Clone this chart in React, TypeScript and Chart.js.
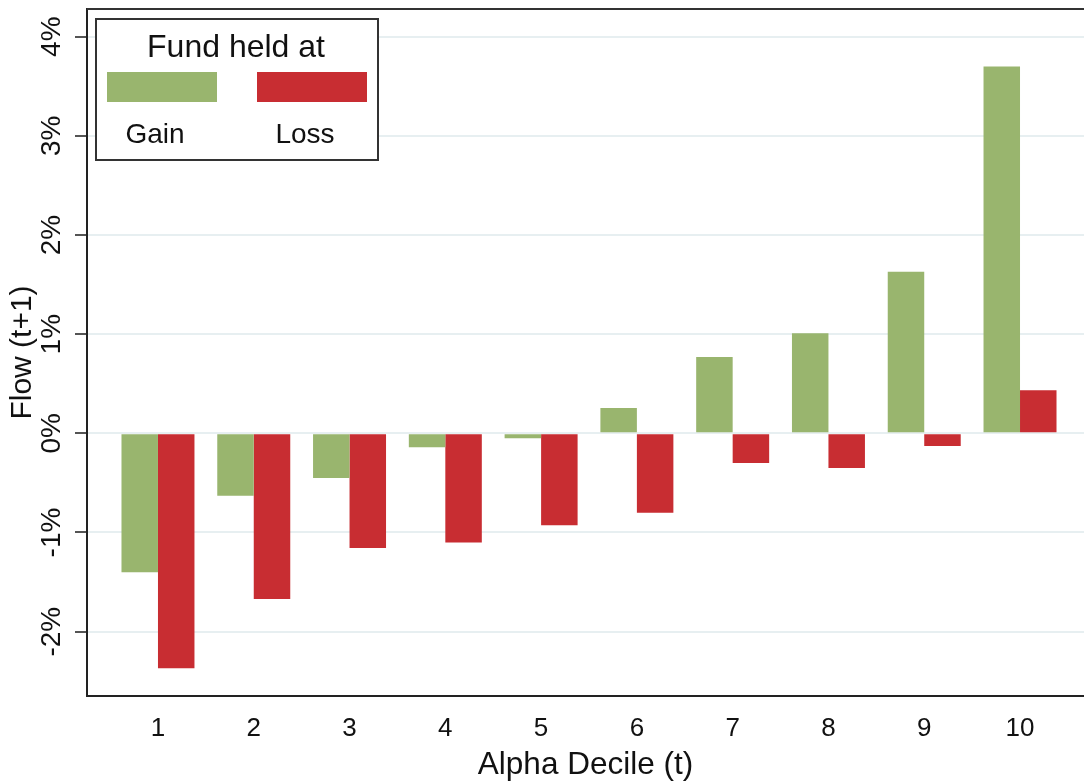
import { useEffect, useRef } from 'react';
import { Chart, registerables } from 'chart.js';

Chart.register(...registerables);

// ---- data ----
const deciles = [1, 2, 3, 4, 5, 6, 7, 8, 9, 10];
const gainFlow = [-1.4, -0.63, -0.45, -0.14, -0.05, 0.255, 0.77, 1.01, 1.63, 3.7];
const lossFlow = [-2.37, -1.67, -1.157, -1.1, -0.927, -0.8, -0.3, -0.35, -0.128, 0.434];
const seriesLabels = ['Gain', 'Loss'];
const seriesColors = ['#99b56e', '#c82d32'];
const yTickValues = [-2, -1, 0, 1, 2, 3, 4];
const legendTitle = 'Fund held at';
const xTitle = 'Alpha Decile (t)';
const yTitle = 'Flow (t+1)';

const FONT = "'Liberation Sans', Arial, sans-serif";
const TEXT = '#111111';

const frameAndLegend = {
  id: 'frameAndLegend',
  afterDraw(chart: any) {
    const { ctx, chartArea } = chart;
    ctx.save();
    // top frame line
    ctx.strokeStyle = '#333333';
    ctx.lineWidth = 2;
    ctx.beginPath();
    ctx.moveTo(chartArea.left, chartArea.top);
    ctx.lineTo(chartArea.right, chartArea.top);
    ctx.stroke();

    // legend box
    const bx = chartArea.left + 9;
    const by = chartArea.top + 10;
    const bw = 282;
    const bh = 141;
    ctx.fillStyle = '#ffffff';
    ctx.fillRect(bx, by, bw, bh);
    ctx.strokeStyle = '#333333';
    ctx.lineWidth = 2;
    ctx.strokeRect(bx, by, bw, bh);

    ctx.fillStyle = TEXT;
    ctx.textAlign = 'center';
    ctx.textBaseline = 'middle';
    ctx.font = `32px ${FONT}`;
    ctx.fillText(legendTitle, bx + bw / 2 - 1, by + 29);

    const ds = chart.data.datasets;
    ds.forEach((d: any, i: number) => {
      const sx = bx + 11 + i * 150;
      const sy = by + 53;
      ctx.fillStyle = d.backgroundColor;
      ctx.fillRect(sx, sy, 110, 30);
      ctx.fillStyle = TEXT;
      ctx.font = `28px ${FONT}`;
      ctx.fillText(d.label, sx + 48, by + 116);
    });
    ctx.restore();
  },
};

export default function App() {
  const ref = useRef<HTMLCanvasElement | null>(null);

  useEffect(() => {
    if (!ref.current) return;
    Chart.defaults.font.family = FONT;
    const chart = new Chart(ref.current, {
      type: 'bar',
      data: {
        datasets: [gainFlow, lossFlow].map((vals, si) => ({
          label: seriesLabels[si],
          data: deciles.map((d, i) => ({ x: d, y: vals[i] })),
          backgroundColor: seriesColors[si],
          borderWidth: 0,
          categoryPercentage: 0.762,
          barPercentage: 1,
        })),
      },
      options: {
        animation: false,
        responsive: false,
        layout: { padding: { left: 0, right: 0, top: 9, bottom: 0 } },
        plugins: {
          legend: { display: false },
          tooltip: { enabled: false },
        },
        scales: {
          x: {
            type: 'linear',
            offset: false,
            min: 0.259,
            max: 10.668,
            afterBuildTicks: (s: any) => {
              s.ticks = deciles.map((v) => ({ value: v }));
            },
            afterFit: (s: any) => {
              s.height = 86;
              s.paddingLeft = 0;
              s.paddingRight = 0;
            },
            grid: { display: false, drawTicks: false },
            border: { display: true, color: '#222222', width: 2 },
            ticks: {
              font: { size: 26, family: FONT },
              color: TEXT,
              padding: 17,
              maxRotation: 0,
              minRotation: 0,
              autoSkip: false,
              callback: (v: any) => String(v),
            },
            title: {
              display: true,
              text: xTitle,
              font: { size: 31.5, family: FONT },
              color: TEXT,
              padding: { top: 0, bottom: -2 },
            },
          },
          y: {
            min: -2.649,
            max: 4.279,
            afterBuildTicks: (s: any) => {
              s.ticks = yTickValues.map((v) => ({ value: v }));
            },
            afterFit: (s: any) => {
              s.width = 87;
              s.paddingTop = 0;
              s.paddingBottom = 0;
            },
            grid: {
              color: '#e7eff1',
              lineWidth: 2,
              tickColor: '#555555',
              tickLength: 12,
              tickWidth: 2,
            },
            border: { display: true, color: '#222222', width: 2 },
            ticks: {
              font: { size: 28, family: FONT },
              color: TEXT,
              minRotation: 90,
              maxRotation: 90,
              crossAlign: 'center',
              padding: -2,
              callback: (v: any) => `${v}%`,
            },
            title: {
              display: true,
              text: yTitle,
              font: { size: 30, family: FONT },
              color: TEXT,
              padding: { top: 5, bottom: 0 },
            },
          },
        },
      },
      plugins: [frameAndLegend],
    } as any);
    return () => chart.destroy();
  }, []);

  return (
    <div style={{ position: 'absolute', left: 0, top: 0, width: 1084, height: 782, background: '#ffffff' }}>
      <canvas ref={ref} width={1084} height={782} style={{ display: 'block' }} />
    </div>
  );
}
